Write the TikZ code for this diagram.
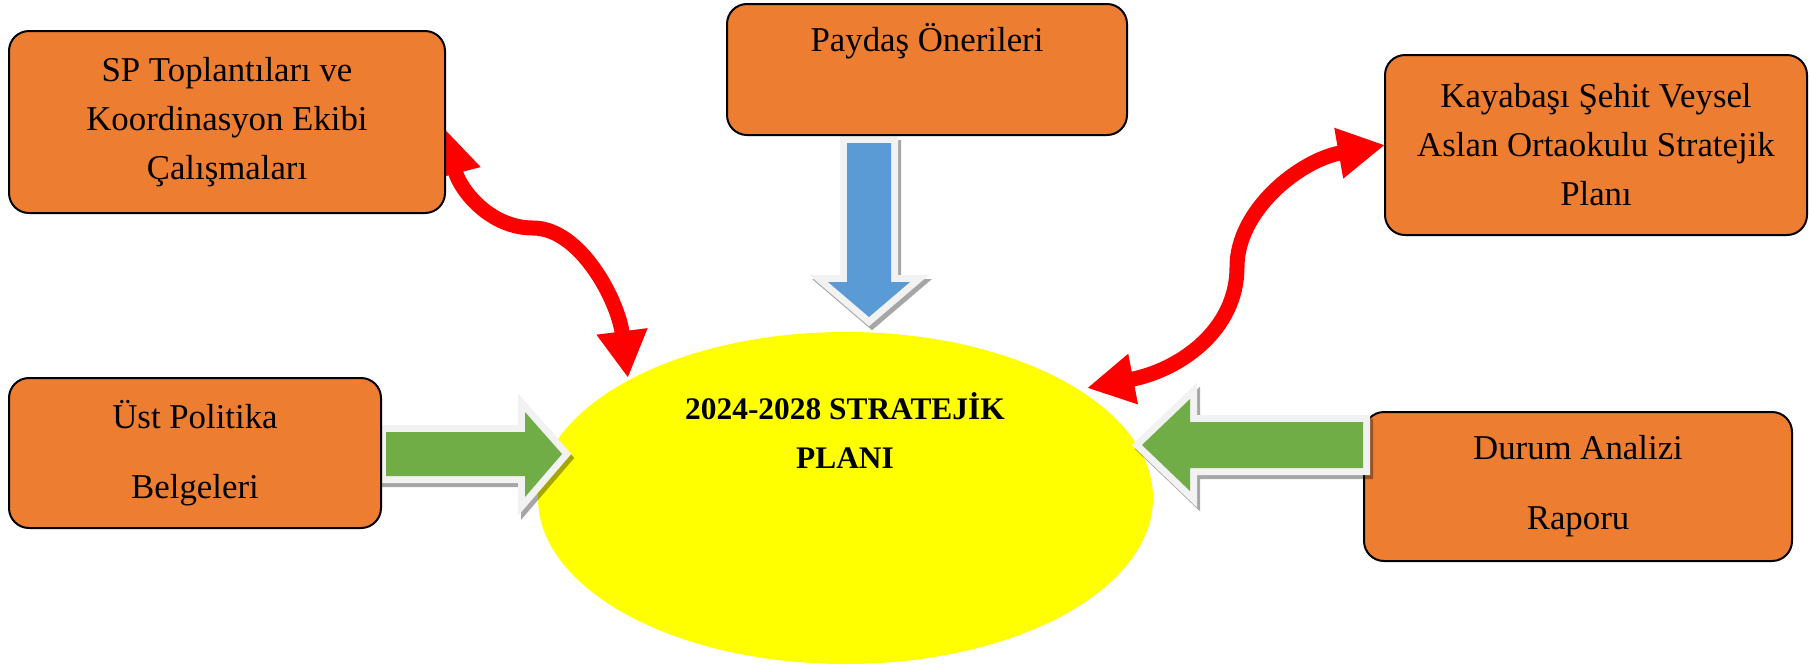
\documentclass[tikz,border=0pt]{standalone}
\usepackage{fontspec}
\setmainfont{Liberation Serif}
\usetikzlibrary{arrows.meta,shapes.geometric}
\definecolor{boxorange}{HTML}{ED7D31}
\definecolor{arrblue}{HTML}{5B9BD5}
\definecolor{arrgreen}{HTML}{70AD47}
\definecolor{outl}{HTML}{F2F2F2}
\definecolor{planyellow}{HTML}{FFFF00}
\definecolor{redarr}{HTML}{FF0000}
\begin{document}
\begin{tikzpicture}[x=0.5pt,y=-0.5pt,
  box/.style={draw=black, line width=1pt, fill=boxorange, rounded corners=10pt,
    align=center, inner sep=0pt, text=black},
  tightfont/.style={font=\fontsize{17.4}{24.5}\selectfont},
  loosefont/.style={font=\fontsize{17.4}{35}\selectfont},
  redcon/.style={draw=redarr, line width=7.5pt,
    {Triangle[length=23.5pt,width=24pt]}-{Triangle[length=23.5pt,width=24pt]}},
  blockshadow/.style={draw=black, draw opacity=0.35, line width=7pt, line join=miter},
  blockoutline/.style={draw=outl, line width=7pt, line join=miter},
]
\useasboundingbox (0,0) rectangle (1809,666);

% central ellipse
\node[ellipse, fill=planyellow, minimum width=307.5pt, minimum height=166pt, inner sep=0pt] (plan) at (845.5,498) {};
\node[font=\bfseries\fontsize{15.7}{24.5}\selectfont, align=center] (plantitle) at (845,431) {2024-2028 STRATEJİK\\PLANI};

% red curved connectors (tips as named coordinates)
\coordinate (spTip) at (444,128);
\coordinate (planTipL) at (628,378);
\coordinate (kayaTip) at (1385,145);
\coordinate (planTipR) at (1087,388);
\draw[redcon] (spTip) .. controls (460,190) and (490,228) .. (533,228)
  .. controls (580,228) and (618,300) .. (planTipL);
\draw[redcon] (kayaTip) .. controls (1300,160) and (1237,210) .. (1237,267)
  .. controls (1237,330) and (1180,370) .. (planTipR);

% left green block arrow
\begin{scope}[shift={(3,4)}]
\draw[blockshadow] (386,432) -- (525,432) -- (525,412) -- (562,454) -- (525,497) -- (525,476) -- (386,476) -- cycle;
\end{scope}
\draw[blockoutline] (386,432) -- (525,432) -- (525,412) -- (562,454) -- (525,497) -- (525,476) -- (386,476) -- cycle;
\fill[arrgreen] (386,432) -- (525,432) -- (525,412) -- (562,454) -- (525,497) -- (525,476) -- (386,476) -- cycle;

% blue block arrow
\begin{scope}[shift={(3,4)}]
\draw[blockshadow] (847,143) -- (891,143) -- (891,282) -- (910,282) -- (869,317) -- (828,282) -- (847,282) -- cycle;
\end{scope}
\draw[blockoutline] (847,143) -- (891,143) -- (891,282) -- (910,282) -- (869,317) -- (828,282) -- (847,282) -- cycle;
\fill[arrblue] (847,143) -- (891,143) -- (891,282) -- (910,282) -- (869,317) -- (828,282) -- (847,282) -- cycle;

% boxes
\node[box, tightfont, minimum width=218pt, minimum height=91pt] (sp) at (227,122)
  {SP Toplantıları ve\\Koordinasyon Ekibi\\Çalışmaları};
\node[box, minimum width=200pt, minimum height=65.5pt,
  label={[anchor=base, yshift=-24pt, tightfont]north:Paydaş Önerileri}] (paydas) at (927,69.5) {};
\node[box, tightfont, minimum width=211pt, minimum height=90pt] (kaya) at (1596,145)
  {Kayabaşı Şehit Veysel\\Aslan Ortaokulu Stratejik\\Planı};
\node[box, loosefont, minimum width=186pt, minimum height=75pt] (ust) at (195,453)
  {Üst Politika\\Belgeleri};
\node[box, loosefont, minimum width=214pt, minimum height=74.5pt] (durum) at (1578,486.5)
  {Durum Analizi\\Raporu};

% right green block arrow (over the Durum box)
\begin{scope}[shift={(3,4)}]
\draw[blockshadow] (1363,422) -- (1190,422) -- (1190,399) -- (1142,445) -- (1190,491) -- (1190,468) -- (1363,468) -- cycle;
\end{scope}
\draw[blockoutline] (1363,422) -- (1190,422) -- (1190,399) -- (1142,445) -- (1190,491) -- (1190,468) -- (1363,468) -- cycle;
\fill[arrgreen] (1363,422) -- (1190,422) -- (1190,399) -- (1142,445) -- (1190,491) -- (1190,468) -- (1363,468) -- cycle;
\end{tikzpicture}
\end{document}
